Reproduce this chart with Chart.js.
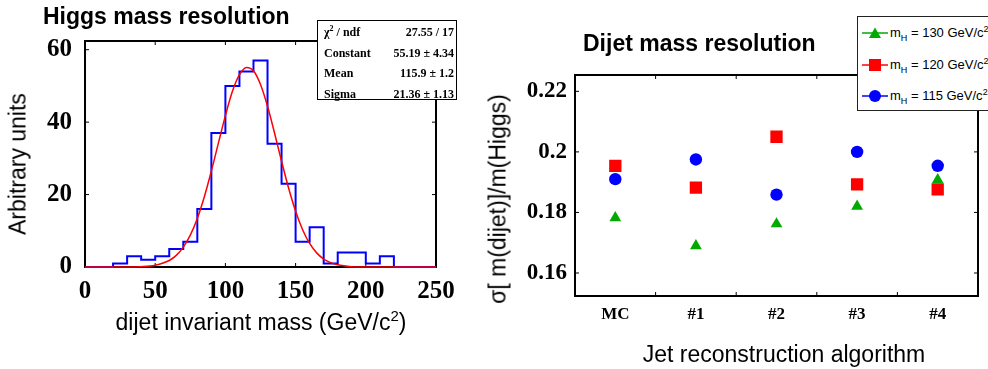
<!DOCTYPE html>
<html>

<head>
    <meta charset="utf-8">
    <style>
        body {
            margin: 0;
            width: 988px;
            height: 369px;
            overflow: hidden;
            background: #fff;
            position: relative;
            font-family: "Liberation Sans", Arial, sans-serif;
        }

        canvas {
            position: absolute;
            top: 0;
        }

        .title {
            position: absolute;
            font-weight: bold;
            font-size: 23px;
            line-height: 23px;
            white-space: nowrap;
            color: #000;
        }

        .axis {
            position: absolute;
            font-size: 23px;
            line-height: 23px;
            white-space: nowrap;
            color: #000;
            transform: translate(-50%, -50%);
        }

        .axis.rot {
            transform: translate(-50%, -50%) rotate(-90deg);
        }

        #stats {
            position: absolute;
            left: 317px;
            top: 20px;
            width: 138px;
            height: 78px;
            border: 1.5px solid #000;
            background: #fff;
            font-family: "Liberation Serif", "Times New Roman", serif;
            font-weight: bold;
            font-size: 12px;
        }

        #stats div {
            position: absolute;
            left: 6px;
            right: 2px;
            height: 14px;
            line-height: 14px;
        }

        #stats span {
            float: right;
        }

        #legend {
            position: absolute;
            left: 857px;
            top: 16px;
            width: 150px;
            height: 93px;
            border: 1.5px solid #222;
            background: #fff;
            font-size: 13px;
        }

        #legend .row {
            position: absolute;
            left: 4px;
            height: 16px;
            line-height: 16px;
            white-space: nowrap;
        }

        #legend svg {
            vertical-align: top;
            margin-right: 2px;
        }

        #legend sub,
        #legend sup {
            font-size: 9px;
            line-height: 0;
        }
    </style>
</head>

<body>
    <canvas id="massChart" width="470" height="369" style="left:0"></canvas>
    <canvas id="resChart" width="518" height="369" style="left:470px"></canvas>

    <div class="title" style="left:43px; top:5px">Higgs mass resolution</div>
    <div class="title" style="left:583px; top:32px">Dijet mass resolution</div>

    <div class="axis rot" style="left:18px; top:164px">Arbitrary units</div>
    <div class="axis" style="left:261px; top:322px">dijet invariant mass (GeV/c<sup style="font-size:15px;line-height:0">2</sup>)</div>
    <div class="axis rot" style="left:498px; top:199px">σ[ m(dijet)]/m(Higgs)</div>
    <div class="axis" style="left:784px; top:354px">Jet reconstruction algorithm</div>

    <div id="stats">
        <div style="top:3.5px">χ<sup style="font-size:8px;line-height:0">2</sup> / ndf<span>27.55 / 17</span></div>
        <div style="top:24.5px">Constant<span>55.19 ± 4.34</span></div>
        <div style="top:44.5px">Mean<span>115.9 ± 1.2</span></div>
        <div style="top:65.5px">Sigma<span>21.36 ± 1.13</span></div>
    </div>

    <div id="legend">
        <div class="row" style="top:8px">
            <svg width="26" height="16"><line x1="0" y1="8" x2="26" y2="8" stroke="#00aa00" stroke-width="1.5"/><polygon points="13,2.5 19,13 7,13" fill="#00aa00"/></svg>m<sub>H</sub> = 130 GeV/c<sup>2</sup>
        </div>
        <div class="row" style="top:40px">
            <svg width="26" height="16"><line x1="0" y1="8" x2="26" y2="8" stroke="#ff0000" stroke-width="1.5"/><rect x="7" y="2" width="12" height="12" fill="#ff0000"/></svg>m<sub>H</sub> = 120 GeV/c<sup>2</sup>
        </div>
        <div class="row" style="top:71px">
            <svg width="26" height="16"><line x1="0" y1="8" x2="26" y2="8" stroke="#0000ff" stroke-width="1.5"/><circle cx="13" cy="8" r="6" fill="#0000ff"/></svg>m<sub>H</sub> = 115 GeV/c<sup>2</sup>
        </div>
    </div>

    <script src="https://cdn.jsdelivr.net/npm/chart.js"></script>
    <script>
        // left: histogram of dijet mass, bins of 10 GeV
        const massEdges = [0, 10, 20, 30, 40, 50, 60, 70, 80, 90, 100, 110, 120, 130, 140, 150, 160, 170, 180, 190, 200, 210, 220, 230, 240, 250];
        const massCounts = [0, 0, 1, 3, 2, 3, 5, 7, 16, 37, 50, 54, 57, 34, 23, 7, 11, 1, 4, 4, 1, 3, 0, 0, 0];
        // gaussian fit curve
        const fitMass = [0, 30, 40, 50, 60, 65, 70, 75, 80, 85, 90, 95, 100, 105, 110, 115, 120, 125, 130, 135, 140, 145, 150, 155, 160, 165, 170, 175, 180, 190, 200, 250];
        const fitValue = [0, 0, 0.1, 0.5, 1.8, 3.2, 5.5, 8.8, 13.4, 19.4, 26.5, 34.2, 41.8, 48.5, 53.1, 55.1, 54.2, 50.4, 44.4, 37.0, 29.2, 21.8, 15.4, 10.3, 6.5, 3.9, 2.2, 1.2, 0.6, 0.1, 0, 0];
        const massTicks = [0, 50, 100, 150, 200, 250];
        const countTicks = [0, 20, 40, 60];

        // right: resolution per jet algorithm
        const algorithms = ['MC', '#1', '#2', '#3', '#4'];
        const resMH130 = [0.1782, 0.1690, 0.1762, 0.1820, 0.1908];
        const resMH120 = [0.1954, 0.1882, 0.2050, 0.1893, 0.1876];
        const resMH115 = [0.1910, 0.1975, 0.1859, 0.2000, 0.1954];
        const resTicks = [0.16, 0.18, 0.2, 0.22];

        const tickFont = { family: '"Liberation Serif", "Times New Roman", serif', weight: 'bold' };

        // frame + small inward ticks, like the ROOT look
        function framePlugin(xPix, yPix, len) {
            return {
                id: 'frame',
                beforeDatasetsDraw(chart) {
                    const { ctx, chartArea: a } = chart;
                    ctx.save();
                    ctx.strokeStyle = '#000';
                    ctx.lineWidth = 2;
                    ctx.strokeRect(a.left, a.top, a.right - a.left, a.bottom - a.top);
                    ctx.lineWidth = 1;
                    ctx.beginPath();
                    xPix(chart).forEach(px => {
                        ctx.moveTo(px, a.bottom); ctx.lineTo(px, a.bottom - len);
                        ctx.moveTo(px, a.top); ctx.lineTo(px, a.top + len);
                    });
                    yPix(chart).forEach(py => {
                        ctx.moveTo(a.left, py); ctx.lineTo(a.left + len, py);
                        ctx.moveTo(a.right, py); ctx.lineTo(a.right - len, py);
                    });
                    ctx.stroke();
                    ctx.restore();
                }
            };
        }

        const histPoints = massEdges.map((x, i) => ({ x: x, y: i < massCounts.length ? massCounts[i] : massCounts[massCounts.length - 1] }));
        const fitPoints = fitMass.map((x, i) => ({ x: x, y: fitValue[i] }));

        new Chart(document.getElementById('massChart'), {
            type: 'line',
            data: {
                datasets: [{
                    data: fitPoints,
                    borderColor: '#ff0000',
                    borderWidth: 1.5,
                    pointRadius: 0,
                    cubicInterpolationMode: 'monotone',
                    clip: false
                }, {
                    data: histPoints,
                    borderColor: '#0000ff',
                    borderWidth: 2,
                    pointRadius: 0,
                    stepped: 'before',
                    clip: false
                }]
            },
            options: {
                animation: false,
                responsive: false,
                layout: { padding: { left: 0, top: 41, right: 34, bottom: 0 } },
                plugins: { legend: { display: false }, tooltip: { enabled: false } },
                scales: {
                    x: {
                        type: 'linear',
                        min: 0,
                        max: 250,
                        afterBuildTicks: s => { s.ticks = massTicks.map(v => ({ value: v })); },
                        afterFit: s => { s.height = 102; },
                        grid: { display: false, drawTicks: false },
                        border: { display: false },
                        ticks: { color: '#000', font: { ...tickFont, size: 25 }, padding: 10, maxRotation: 0 }
                    },
                    y: {
                        min: 0,
                        max: 62.4,
                        afterBuildTicks: s => { s.ticks = countTicks.map(v => ({ value: v })); },
                        afterFit: s => { s.width = 85; },
                        grid: { display: false, drawTicks: false },
                        border: { display: false },
                        ticks: { color: '#000', font: { ...tickFont, size: 25 }, padding: 13 }
                    }
                }
            },
            plugins: [framePlugin(
                c => massTicks.slice(1, -1).map(v => c.scales.x.getPixelForValue(v)),
                c => countTicks.slice(1).map(v => c.scales.y.getPixelForValue(v)),
                4
            )]
        });

        new Chart(document.getElementById('resChart'), {
            type: 'line',
            data: {
                labels: algorithms,
                datasets: [{
                    label: 'mH = 130 GeV/c2',
                    data: resMH130,
                    showLine: false,
                    pointStyle: 'triangle',
                    pointRadius: 6.8,
                    pointBorderWidth: 0,
                    backgroundColor: '#00aa00',
                    borderColor: '#00aa00'
                }, {
                    label: 'mH = 120 GeV/c2',
                    data: resMH120,
                    showLine: false,
                    pointStyle: 'rect',
                    pointRadius: 8.7,
                    pointBorderWidth: 0,
                    backgroundColor: '#ff0000',
                    borderColor: '#ff0000'
                }, {
                    label: 'mH = 115 GeV/c2',
                    data: resMH115,
                    showLine: false,
                    pointStyle: 'circle',
                    pointRadius: 6.2,
                    pointBorderWidth: 0,
                    backgroundColor: '#0000ff',
                    borderColor: '#0000ff'
                }]
            },
            options: {
                animation: false,
                responsive: false,
                layout: { padding: { left: 0, top: 75, right: 10, bottom: 0 } },
                plugins: { legend: { display: false }, tooltip: { enabled: false } },
                scales: {
                    x: {
                        offset: true,
                        afterFit: s => { s.height = 73; },
                        grid: { display: false, drawTicks: false },
                        border: { display: false },
                        ticks: { color: '#000', font: { ...tickFont, size: 17 }, padding: 8 }
                    },
                    y: {
                        min: 0.1524,
                        max: 0.2254,
                        afterBuildTicks: s => { s.ticks = resTicks.map(v => ({ value: v })); },
                        afterFit: s => { s.width = 105; },
                        grid: { display: false, drawTicks: false },
                        border: { display: false },
                        ticks: { color: '#000', font: { ...tickFont, size: 23 }, padding: 8, callback: v => String(v) }
                    }
                }
            },
            plugins: [framePlugin(
                c => algorithms.slice(1).map((l, i) => (c.scales.x.getPixelForValue(i) + c.scales.x.getPixelForValue(i + 1)) / 2),
                c => resTicks.map(v => c.scales.y.getPixelForValue(v)),
                4
            )]
        });
    </script>
</body>

</html>
